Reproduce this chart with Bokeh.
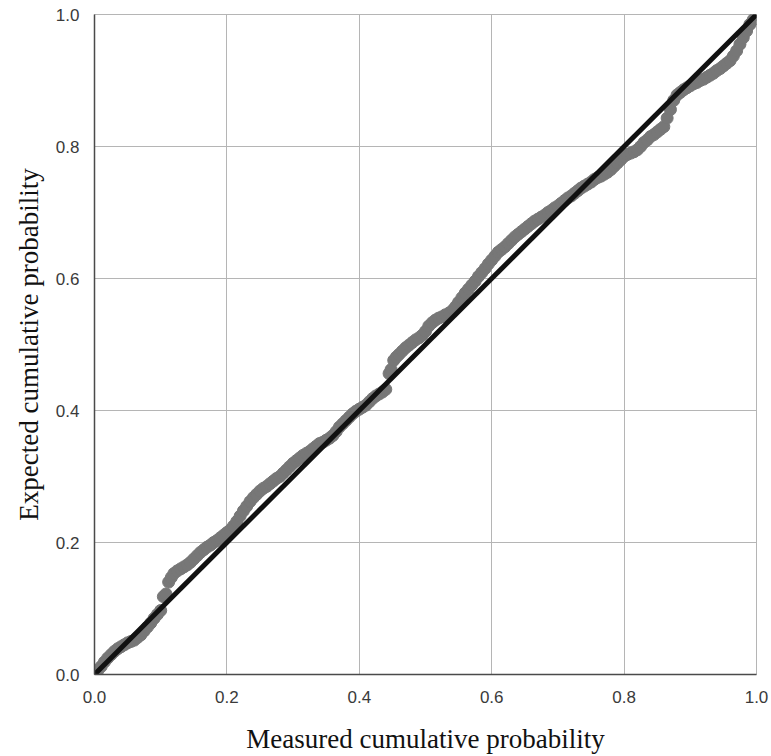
from bokeh.plotting import figure
from bokeh.embed import file_html
from bokeh.resources import INLINE
from bokeh.models import FixedTicker, Range1d, CustomJSTickFormatter

# Measured cumulative probability (x) vs expected cumulative probability (y)
measured = [0.000, 0.005, 0.010, 0.015, 0.020, 0.025, 0.030, 0.035, 0.040, 0.045,
            0.050, 0.055, 0.060, 0.065, 0.070, 0.075, 0.080, 0.085, 0.090, 0.095,
            0.100, 0.104, 0.108, 0.112, 0.116, 0.120, 0.125, 0.130, 0.135, 0.140,
            0.145, 0.150, 0.155, 0.160, 0.165, 0.170, 0.175, 0.180, 0.185, 0.190,
            0.195, 0.200, 0.205, 0.210, 0.215, 0.220, 0.225, 0.230, 0.235, 0.240,
            0.245, 0.250, 0.255, 0.260, 0.265, 0.270, 0.275, 0.280, 0.285, 0.290,
            0.295, 0.300, 0.305, 0.310, 0.315, 0.320, 0.325, 0.330, 0.335, 0.340,
            0.345, 0.350, 0.355, 0.360, 0.365, 0.370, 0.375, 0.380, 0.385, 0.390,
            0.395, 0.400, 0.405, 0.410, 0.415, 0.420, 0.425, 0.430, 0.435, 0.440,
            0.445, 0.448, 0.452, 0.456, 0.460, 0.465, 0.470, 0.475, 0.480, 0.485,
            0.490, 0.495, 0.500, 0.505, 0.510, 0.515, 0.520, 0.525, 0.530, 0.536,
            0.542, 0.546, 0.550, 0.555, 0.560, 0.565, 0.570, 0.575, 0.580, 0.585,
            0.590, 0.595, 0.600, 0.605, 0.610, 0.615, 0.620, 0.625, 0.630, 0.635,
            0.640, 0.645, 0.650, 0.655, 0.660, 0.665, 0.670, 0.675, 0.680, 0.685,
            0.690, 0.695, 0.700, 0.705, 0.710, 0.715, 0.720, 0.725, 0.730, 0.735,
            0.740, 0.745, 0.750, 0.755, 0.760, 0.765, 0.770, 0.775, 0.780, 0.785,
            0.790, 0.795, 0.800, 0.805, 0.810, 0.815, 0.820, 0.825, 0.830, 0.835,
            0.840, 0.845, 0.850, 0.855, 0.860, 0.865, 0.870, 0.875, 0.880, 0.885,
            0.890, 0.895, 0.900, 0.905, 0.910, 0.915, 0.920, 0.925, 0.930, 0.935,
            0.940, 0.945, 0.950, 0.955, 0.960, 0.965, 0.970, 0.975, 0.980, 0.985,
            0.990, 0.995, 1.000]
expected = [0.000, 0.006, 0.012, 0.019, 0.025, 0.030, 0.035, 0.039, 0.042, 0.045,
            0.048, 0.050, 0.052, 0.056, 0.060, 0.066, 0.072, 0.078, 0.085, 0.091,
            0.097, 0.118, 0.122, 0.140, 0.147, 0.153, 0.157, 0.160, 0.163, 0.166,
            0.170, 0.175, 0.180, 0.185, 0.189, 0.193, 0.196, 0.200, 0.203, 0.207,
            0.211, 0.215, 0.219, 0.225, 0.232, 0.240, 0.248, 0.255, 0.262, 0.268,
            0.273, 0.278, 0.282, 0.285, 0.289, 0.293, 0.297, 0.300, 0.305, 0.310,
            0.315, 0.320, 0.324, 0.328, 0.332, 0.335, 0.338, 0.342, 0.346, 0.350,
            0.352, 0.355, 0.358, 0.362, 0.368, 0.375, 0.380, 0.385, 0.390, 0.395,
            0.399, 0.402, 0.405, 0.408, 0.413, 0.418, 0.422, 0.425, 0.428, 0.432,
            0.456, 0.462, 0.476, 0.481, 0.485, 0.490, 0.495, 0.499, 0.503, 0.507,
            0.510, 0.514, 0.520, 0.528, 0.533, 0.537, 0.540, 0.542, 0.545, 0.548,
            0.553, 0.558, 0.564, 0.571, 0.578, 0.584, 0.590, 0.596, 0.603, 0.609,
            0.615, 0.622, 0.628, 0.634, 0.640, 0.644, 0.648, 0.653, 0.658, 0.663,
            0.667, 0.671, 0.675, 0.679, 0.683, 0.687, 0.690, 0.693, 0.696, 0.700,
            0.703, 0.707, 0.710, 0.714, 0.718, 0.722, 0.725, 0.729, 0.733, 0.737,
            0.740, 0.743, 0.746, 0.750, 0.753, 0.755, 0.758, 0.761, 0.765, 0.770,
            0.775, 0.780, 0.785, 0.788, 0.790, 0.792, 0.795, 0.800, 0.806, 0.810,
            0.815, 0.818, 0.822, 0.826, 0.830, 0.843, 0.856, 0.870, 0.878, 0.882,
            0.886, 0.889, 0.892, 0.895, 0.897, 0.900, 0.902, 0.905, 0.908, 0.911,
            0.915, 0.918, 0.922, 0.926, 0.930, 0.937, 0.945, 0.955, 0.965, 0.975,
            0.985, 0.992, 1.000]

ref_x = [0.0, 1.0]
ref_y = [0.0, 1.0]
ticks = [0.0, 0.2, 0.4, 0.6, 0.8, 1.0]

p = figure(width=771, height=756, output_backend="svg", toolbar_location=None,
           x_range=Range1d(0, 1), y_range=Range1d(0, 1),
           min_border_left=94, min_border_right=15, min_border_top=14, min_border_bottom=80)

p.background_fill_color = "white"
p.border_fill_color = "white"
p.outline_line_color = "#b5b5b5"
p.outline_line_width = 1

fmt = CustomJSTickFormatter(code="return tick.toFixed(1);")
for ax in (p.xaxis[0], p.yaxis[0]):
    ax.ticker = FixedTicker(ticks=ticks)
    ax.formatter = fmt
    ax.major_tick_line_color = None
    ax.minor_tick_line_color = None
    ax.axis_line_color = "#4a4a4a"
    ax.axis_line_width = 1.5
    ax.major_label_text_font = "Liberation Sans"
    ax.major_label_text_font_size = "17px"
    ax.major_label_text_color = "#3a3a3a"
    ax.axis_label_text_font = "Liberation Serif"
    ax.axis_label_text_font_size = "27px"
    ax.axis_label_text_font_style = "normal"
    ax.axis_label_text_color = "#111111"

p.xaxis.axis_label = "Measured cumulative probability"
p.yaxis.axis_label = "Expected cumulative probability"
p.xaxis.major_label_standoff = 10
p.yaxis.major_label_standoff = 9
p.xaxis.axis_label_standoff = 18
p.yaxis.axis_label_standoff = 9

p.xgrid.ticker = FixedTicker(ticks=ticks)
p.ygrid.ticker = FixedTicker(ticks=ticks)
p.grid.grid_line_color = "#b5b5b5"
p.grid.grid_line_width = 1

p.scatter(measured, expected, size=12, fill_color="#777777", line_color="#777777")
p.line(ref_x, ref_y, line_color="#111111", line_width=5)

open("out.html", "w").write(file_html(p, INLINE))
